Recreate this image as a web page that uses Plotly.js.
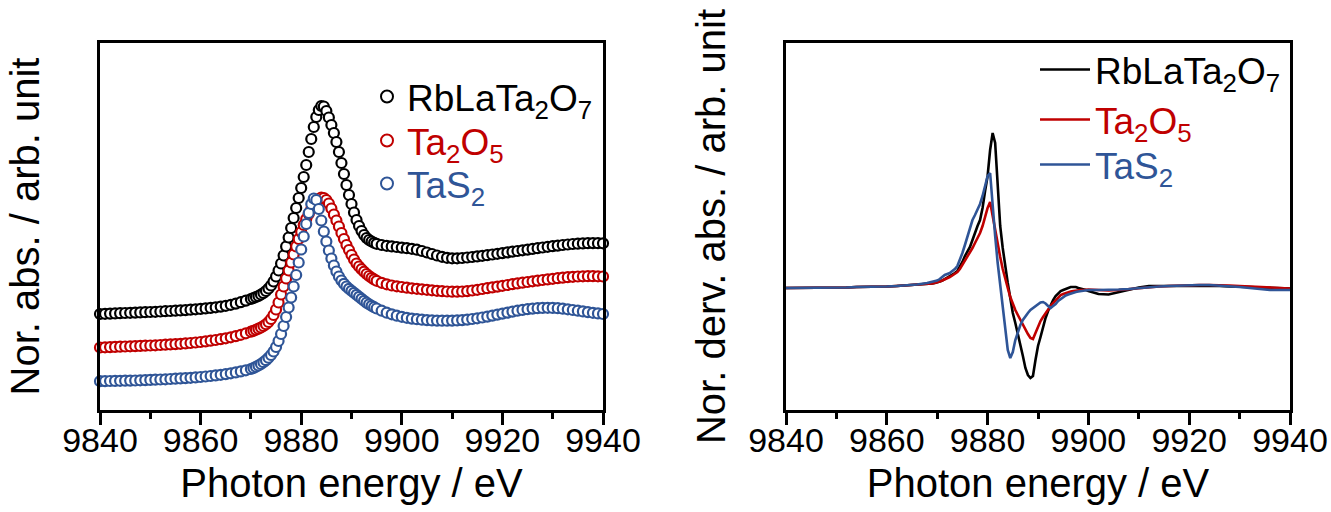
<!DOCTYPE html>
<html>
<head>
<meta charset="utf-8">
<script src="https://cdn.plot.ly/plotly-3.0.1.min.js"></script>
<style>
  html, body { margin: 0; padding: 0; background: #ffffff; }
  #chart { width: 1331px; height: 512px; }
</style>
</head>
<body>
<div id="chart"></div>
<script>
// Ta L3-edge XANES spectra (left) and their first derivatives (right)

const seriesNames = ['RbLaTa<sub>2</sub>O<sub>7</sub>', 'Ta<sub>2</sub>O<sub>5</sub>', 'TaS<sub>2</sub>'];
const seriesColors = ['#000000', '#C00000', '#2F5597'];

// photon energy grid of the absorption spectra (eV)
const energy = [
  9840, 9841, 9842, 9843, 9844, 9845, 9846, 9847, 9848, 9849,
  9850, 9851, 9852, 9853, 9854, 9855, 9856, 9857, 9858, 9859,
  9860, 9861, 9862, 9863, 9864, 9865, 9866, 9867, 9868, 9869,
  9870, 9870.5, 9871, 9871.5, 9872, 9872.5, 9873, 9873.5, 9874, 9874.5,
  9875, 9875.5, 9876, 9876.5, 9877, 9877.5, 9878, 9878.5, 9879, 9879.5,
  9880, 9880.5, 9881, 9881.5, 9882, 9882.5, 9883, 9883.5, 9884, 9884.5,
  9885, 9885.5, 9886, 9886.5, 9887, 9887.5, 9888, 9888.5, 9889, 9889.5,
  9890, 9890.5, 9891, 9891.5, 9892, 9892.5, 9893, 9893.5, 9894, 9894.5,
  9895, 9896, 9897, 9898, 9899,
  9900, 9901, 9902, 9903, 9904, 9905, 9906, 9907, 9908, 9909,
  9910, 9911, 9912, 9913, 9914, 9915, 9916, 9917, 9918, 9919,
  9920, 9921, 9922, 9923, 9924, 9925, 9926, 9927, 9928, 9929,
  9930, 9931, 9932, 9933, 9934, 9935, 9936, 9937, 9938, 9939,
  9940
];

// normalized absorption, vertically offset for clarity
const absRbLaTa2O7 = [
  0.960, 0.962, 0.964, 0.966, 0.968, 0.970, 0.972, 0.974, 0.976, 0.978,
  0.980, 0.982, 0.985, 0.988, 0.990, 0.993, 0.996, 0.999, 1.003, 1.007,
  1.011, 1.016, 1.021, 1.027, 1.034, 1.042, 1.052, 1.064, 1.078, 1.094,
  1.110, 1.120, 1.130, 1.140, 1.155, 1.170, 1.190, 1.215, 1.245, 1.285,
  1.335, 1.395, 1.465, 1.545, 1.635, 1.725, 1.820, 1.920, 2.020, 2.120,
  2.220, 2.330, 2.450, 2.580, 2.710, 2.830, 2.930, 3.000, 3.040, 3.035,
  2.990, 2.925, 2.850, 2.770, 2.680, 2.580, 2.470, 2.360, 2.250, 2.150,
  2.060, 1.975, 1.900, 1.840, 1.790, 1.750, 1.720, 1.700, 1.685, 1.672,
  1.662, 1.650, 1.642, 1.636, 1.630,
  1.624, 1.618, 1.612, 1.603, 1.590, 1.575, 1.560, 1.545, 1.532, 1.522,
  1.517, 1.517, 1.520, 1.525, 1.530, 1.536, 1.542, 1.548, 1.555, 1.562,
  1.569, 1.576, 1.583, 1.590, 1.597, 1.604, 1.611, 1.618, 1.625, 1.632,
  1.638, 1.644, 1.650, 1.655, 1.660, 1.663, 1.666, 1.668, 1.669, 1.668,
  1.667
];
const absTa2O5 = [
  0.625, 0.627, 0.629, 0.631, 0.633, 0.635, 0.637, 0.639, 0.641, 0.643,
  0.645, 0.647, 0.650, 0.653, 0.656, 0.659, 0.662, 0.666, 0.670, 0.675,
  0.680, 0.686, 0.693, 0.700, 0.708, 0.717, 0.727, 0.739, 0.752, 0.767,
  0.783, 0.792, 0.802, 0.813, 0.825, 0.840, 0.857, 0.880, 0.910, 0.950,
  1.005, 1.075, 1.155, 1.235, 1.315, 1.395, 1.475, 1.555, 1.635, 1.710,
  1.780, 1.850, 1.910, 1.960, 2.010, 2.050, 2.085, 2.110, 2.125, 2.120,
  2.100, 2.065, 2.015, 1.955, 1.895, 1.835, 1.770, 1.710, 1.650, 1.600,
  1.550, 1.505, 1.465, 1.435, 1.408, 1.383, 1.360, 1.340, 1.322, 1.306,
  1.292, 1.272, 1.257, 1.245, 1.237,
  1.230, 1.223, 1.217, 1.212, 1.207, 1.202, 1.197, 1.192, 1.188, 1.185,
  1.183, 1.183, 1.185, 1.189, 1.195, 1.202, 1.210, 1.218, 1.226, 1.234,
  1.242, 1.250, 1.258, 1.266, 1.273, 1.280, 1.287, 1.294, 1.300, 1.306,
  1.312, 1.318, 1.323, 1.328, 1.332, 1.335, 1.337, 1.338, 1.338, 1.337,
  1.335
];
const absTaS2 = [
  0.288, 0.289, 0.290, 0.291, 0.292, 0.293, 0.294, 0.295, 0.297, 0.299,
  0.301, 0.303, 0.305, 0.307, 0.310, 0.313, 0.316, 0.319, 0.322, 0.326,
  0.330, 0.335, 0.340, 0.346, 0.352, 0.359, 0.367, 0.376, 0.386, 0.397,
  0.410, 0.420, 0.432, 0.445, 0.460, 0.478, 0.498, 0.522, 0.550, 0.585,
  0.630, 0.690, 0.760, 0.840, 0.930, 1.025, 1.125, 1.235, 1.350, 1.475,
  1.605, 1.735, 1.860, 1.970, 2.060, 2.115, 2.100, 2.010, 1.895, 1.785,
  1.685, 1.595, 1.515, 1.445, 1.385, 1.335, 1.295, 1.262, 1.235, 1.212,
  1.192, 1.172, 1.152, 1.132, 1.112, 1.092, 1.073, 1.057, 1.042, 1.028,
  1.015, 0.993, 0.973, 0.957, 0.943,
  0.932, 0.922, 0.914, 0.908, 0.903, 0.899, 0.896, 0.894, 0.893, 0.893,
  0.894, 0.896, 0.899, 0.904, 0.910, 0.917, 0.925, 0.934, 0.944, 0.954,
  0.964, 0.974, 0.984, 0.993, 1.001, 1.008, 1.014, 1.018, 1.021, 1.022,
  1.021, 1.018, 1.013, 1.007, 1.000, 0.993, 0.986, 0.979, 0.972, 0.966,
  0.960
];

// photon energy grid of the derivative spectra (eV)
const energyDeriv = [
  9840, 9842, 9844, 9846, 9848, 9850, 9852, 9854, 9856, 9858, 9860, 9862, 9864, 9866, 9868,
  9869, 9869.5, 9870, 9870.5, 9871, 9871.5, 9872, 9872.5, 9873, 9873.5,
  9874, 9874.5, 9875, 9875.5, 9876, 9876.5, 9877, 9877.5, 9878, 9878.5,
  9879, 9879.5, 9880, 9880.5, 9881, 9881.5, 9882, 9882.5, 9883, 9883.5,
  9884, 9884.5, 9885, 9885.5, 9886, 9886.5, 9887, 9887.5, 9888, 9888.5,
  9889, 9889.5, 9890, 9890.5, 9891, 9891.5, 9892, 9892.5, 9893, 9893.5,
  9894, 9894.5, 9895, 9895.5, 9896, 9896.5, 9897, 9897.5, 9898, 9898.5,
  9899, 9899.5, 9900,
  9902, 9904, 9906, 9908, 9910, 9912, 9914, 9916, 9918, 9920,
  9922, 9924, 9926, 9928, 9930, 9932, 9934, 9936, 9938, 9940
];

// normalized first derivative of the absorption
const derivRbLaTa2O7 = [
  0, 0, 0, 0, 0.005, 0.005, 0.005, 0.01, 0.01, 0.01, 0.015, 0.02, 0.025, 0.03, 0.04,
  0.045, 0.05, 0.055, 0.065, 0.075, 0.09, 0.10, 0.115, 0.13, 0.15,
  0.17, 0.21, 0.26, 0.32, 0.37, 0.41, 0.48, 0.56, 0.62, 0.68,
  0.80, 0.97, 1.12, 1.38, 1.55, 1.45, 1.05, 0.62, 0.40, 0.20,
  0.05, -0.10, -0.25, -0.35, -0.45, -0.56, -0.68, -0.80, -0.87, -0.90,
  -0.88, -0.72, -0.58, -0.49, -0.39, -0.30, -0.23, -0.17, -0.12, -0.08,
  -0.05, -0.03, -0.02, -0.01, 0.00, 0.01, 0.01, 0.01, 0.00, -0.005,
  -0.01, -0.02, -0.03,
  -0.06, -0.065, -0.04, -0.015, 0.005, 0.02, 0.02, 0.025, 0.02, 0.02,
  0.025, 0.02, 0.02, 0.015, 0.015, 0.01, 0.005, 0.0, 0.0, -0.005
];
const derivTa2O5 = [
  0, 0, 0, 0, 0.005, 0.005, 0.005, 0.01, 0.01, 0.01, 0.015, 0.02, 0.025, 0.03, 0.04,
  0.045, 0.05, 0.055, 0.065, 0.075, 0.085, 0.095, 0.11, 0.125, 0.14,
  0.16, 0.19, 0.23, 0.27, 0.31, 0.35, 0.40, 0.45, 0.50, 0.55,
  0.62, 0.72, 0.80, 0.86, 0.72, 0.55, 0.42, 0.31, 0.19, 0.08,
  0.00, -0.09, -0.16, -0.22, -0.27, -0.32, -0.37, -0.42, -0.46, -0.50,
  -0.51, -0.45, -0.38, -0.33, -0.29, -0.25, -0.21, -0.18, -0.15, -0.12,
  -0.09, -0.07, -0.06, -0.05, -0.04, -0.035, -0.03, -0.025, -0.02, -0.02,
  -0.02, -0.015, -0.015,
  -0.02, -0.025, -0.02, -0.01, 0.00, 0.01, 0.015, 0.02, 0.025, 0.025,
  0.03, 0.03, 0.03, 0.025, 0.02, 0.015, 0.01, 0.005, 0.0, -0.005
];
const derivTaS2 = [
  0, 0, 0, 0, 0.005, 0.005, 0.005, 0.01, 0.01, 0.01, 0.015, 0.02, 0.025, 0.035, 0.05,
  0.06, 0.065, 0.075, 0.09, 0.11, 0.13, 0.14, 0.15, 0.17, 0.19,
  0.22, 0.28, 0.35, 0.43, 0.52, 0.61, 0.68, 0.73, 0.78, 0.84,
  0.92, 1.03, 1.12, 1.15, 0.80, 0.52, 0.25, 0.03, -0.20, -0.45,
  -0.62, -0.70, -0.64, -0.52, -0.44, -0.37, -0.32, -0.28, -0.25, -0.22,
  -0.20, -0.18, -0.16, -0.145, -0.14, -0.155, -0.18, -0.20, -0.18, -0.16,
  -0.13, -0.11, -0.09, -0.075, -0.065, -0.055, -0.05, -0.04, -0.035, -0.03,
  -0.025, -0.02, -0.02,
  -0.02, -0.02, -0.015, -0.01, 0.00, 0.01, 0.015, 0.02, 0.025, 0.03,
  0.03, 0.03, 0.025, 0.02, 0.01, 0.0, -0.01, -0.02, -0.02, -0.02
];

const absSeries = [absRbLaTa2O7, absTa2O5, absTaS2];
const derivSeries = [derivRbLaTa2O7, derivTa2O5, derivTaS2];

const FONT = 'Liberation Sans, Arial, Helvetica, sans-serif';
const W = 1331, H = 512;

function legendLabel(i) {
  return '<span style="color:' + seriesColors[i] + '">' + seriesNames[i] + '</span>';
}

// one legend per entry so each row can be placed on its own
const absLegendIds = ['legend', 'legend2', 'legend3'];
const derivLegendIds = ['legend4', 'legend5', 'legend6'];

const traces = [];
absSeries.forEach((ys, i) => {
  traces.push({
    type: 'scatter', mode: 'markers',
    x: energy, y: ys,
    xaxis: 'x', yaxis: 'y',
    name: legendLabel(i), legend: absLegendIds[i],
    cliponaxis: false,
    marker: { symbol: 'circle', size: 10, color: '#ffffff',
              line: { color: seriesColors[i], width: 2.2 } }
  });
});
derivSeries.forEach((ys, i) => {
  traces.push({
    type: 'scatter', mode: 'lines',
    x: energyDeriv, y: ys,
    xaxis: 'x2', yaxis: 'y2',
    name: legendLabel(i), legend: derivLegendIds[i],
    line: { color: seriesColors[i], width: 2.6 }
  });
});

function energyAxis(domain, anchor) {
  return {
    domain: domain, anchor: anchor,
    range: [9840, 9940],
    tick0: 9840, dtick: 20, tickformat: 'd',
    ticks: 'outside', ticklen: 12, tickwidth: 3, tickcolor: '#000',
    ticklabelstandoff: -14,
    minor: { dtick: 10, ticks: 'outside', ticklen: 6, tickwidth: 3, tickcolor: '#000' },
    showline: true, linewidth: 3, linecolor: '#000', mirror: true,
    showgrid: false, zeroline: false,
    tickfont: { size: 34, color: '#000' },
    title: { text: 'Photon energy / eV', font: { size: 40, color: '#000' }, standoff: 12 }
  };
}
function intensityAxis(range, titleText, anchor) {
  return {
    domain: [1 - 410 / H, 1 - 43 / H],
    range: range, anchor: anchor,
    showticklabels: false, ticks: '',
    showline: true, linewidth: 3, linecolor: '#000', mirror: true,
    showgrid: false, zeroline: false,
    title: { text: titleText, font: { size: 40, color: '#000' }, standoff: 46 }
  };
}
function legendAt(left, top, extra) {
  return Object.assign({
    x: left / W, xanchor: 'left', y: 1 - top / H, yanchor: 'top',
    bgcolor: 'rgba(0,0,0,0)', borderwidth: 0,
    font: { size: 37, family: FONT }
  }, extra || {});
}

const layout = {
  width: W, height: H,
  margin: { l: 0, r: 0, t: 0, b: 0 },
  paper_bgcolor: '#ffffff', plot_bgcolor: '#ffffff',
  font: { family: FONT, color: '#000' },
  showlegend: true,
  hovermode: false,
  xaxis: energyAxis([100 / W, 603 / W], 'y'),
  yaxis: intensityAxis([0, 3.67], 'Nor. abs. / arb. unit', 'x'),
  xaxis2: energyAxis([786 / W, 1290 / W], 'y2'),
  yaxis2: intensityAxis([-1.22, 2.45], 'Nor. derv. abs. / arb. unit', 'x2'),
  legend:  legendAt(367, 66, { itemsizing: 'constant' }),
  legend2: legendAt(367, 110, { itemsizing: 'constant' }),
  legend3: legendAt(367, 153, { itemsizing: 'constant' }),
  legend4: legendAt(1035, 39, { itemwidth: 50 }),
  legend5: legendAt(1035, 89, { itemwidth: 50 }),
  legend6: legendAt(1035, 134, { itemwidth: 50 })
};

Plotly.newPlot('chart', traces, layout, { staticPlot: true, displayModeBar: false });
</script>
</body>
</html>
